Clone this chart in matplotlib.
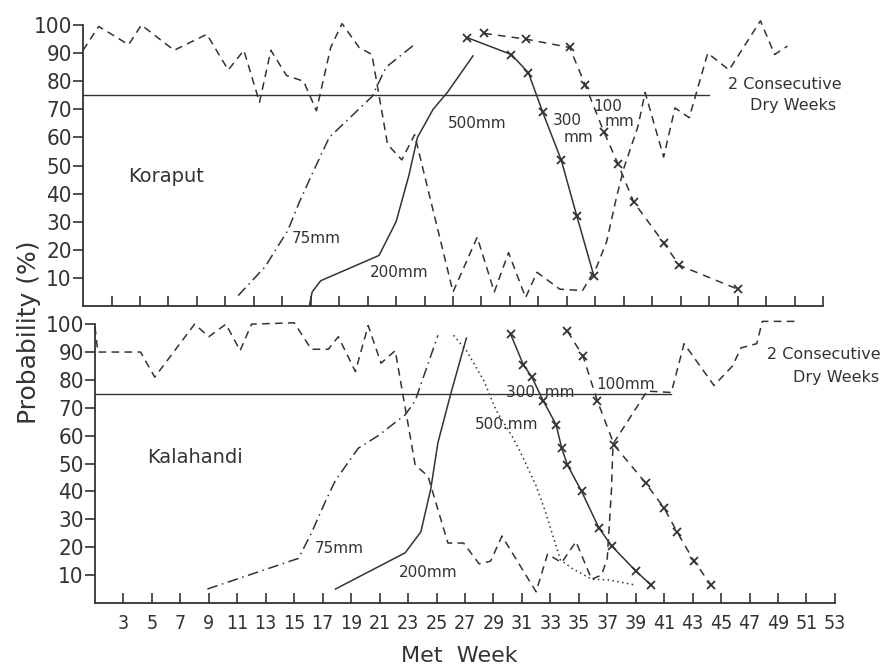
import matplotlib
matplotlib.use("Agg")
import matplotlib.pyplot as plt

INK = "#333333"

# ---- Koraput (top panel), week vs probability (%) ----
kor_dry_wk = [1.0, 2.1, 4.2, 5.1, 7.4, 9.7, 11.2, 12.3, 13.4, 14.2, 15.3, 16.5, 17.4, 18.4,
              19.2, 20.4, 21.3, 22.4, 23.4, 24.3, 27.0, 28.7, 29.9, 30.9, 32.1, 32.9, 34.5,
              36.1, 37.1, 37.8, 38.5, 39.0, 40.0, 40.5, 41.8, 42.6, 43.6, 44.9, 46.4, 48.6,
              49.6, 50.5]
kor_dry_p = [91, 99.5, 93, 100, 91, 96.7, 84, 91, 72.5, 91, 82, 80, 69.5, 92,
             100.5, 92, 89.5, 57.5, 52, 61, 5, 24.5, 5, 19, 3, 12, 6,
             5.5, 14, 23, 39, 49, 64, 76, 53, 70.5, 67, 90, 84, 101.5,
             89.5, 92.5]

kor_75_wk = [11.9, 13.8, 15.4, 16.2, 17.1, 18.3, 21.3, 22.3, 24.4]
kor_75_p = [3.7, 14, 27, 37, 47, 60, 74.5, 85, 93.5]

kor_200_wk = [16.9, 17.1, 17.7, 21.8, 23.0, 23.9, 24.5, 25.6, 26.6, 28.4]
kor_200_p = [0, 5, 9, 18, 30, 46.5, 60, 70, 76, 89]

kor_300_wk = [28.0, 31.1, 32.3, 33.3, 34.6, 35.7, 36.9]
kor_300_p = [95.5, 89.5, 83, 69, 52, 32, 10.7]

kor_100_wk = [29.2, 32.1, 35.2, 36.3, 37.6, 38.6, 39.7, 41.8, 42.9, 47.0]
kor_100_p = [97, 95, 92, 78.5, 62, 50.5, 37, 22.5, 14.5, 6]

# ---- Kalahandi (bottom panel) ----
kal_dry_wk = [1.0, 1.2, 4.2, 5.2, 8.0, 9.0, 10.2, 11.2, 12.0, 15.0, 16.2, 17.4, 18.1, 19.3,
              20.2, 21.1, 22.1, 23.5, 24.4, 25.8, 26.9, 28.0, 28.8, 29.6, 32.0, 32.8, 33.8,
              34.8, 35.9, 36.6, 37.0, 37.3, 37.4, 39.8, 41.5, 42.4, 44.5, 45.8, 46.4, 47.5,
              47.9, 50.3]
kal_dry_p = [99, 90, 90, 81, 100, 95.5, 100, 90.5, 100, 100.5, 91, 91, 95.5, 83,
             99.5, 86, 90.5, 49.5, 45.5, 21.5, 21.5, 14, 15, 24, 4, 17.5, 14.5,
             22, 8.5, 10, 16, 41, 57, 76, 75.5, 93, 78, 85, 91.5, 93,
             101, 101]

kal_75_wk = [8.9, 15.3, 16.2, 17.2, 17.9, 19.5, 20.9, 22.8, 23.5, 25.1]
kal_75_p = [5, 16, 25, 36.5, 44, 55.5, 60, 67.5, 72.5, 96]

kal_200_wk = [17.9, 22.8, 23.9, 24.6, 25.1, 26.0, 27.1]
kal_200_p = [5, 18, 25.5, 41, 57.5, 75, 95]

kal_500_wk = [26.2, 27.1, 28.3, 29.2, 30.4, 31.0, 32.0, 32.7, 33.7, 34.5, 35.9, 37.1, 39.0]
kal_500_p = [96, 90.5, 80, 69, 59, 53, 42, 32, 15.5, 12.5, 8.5, 8.3, 6.4]

kal_300_wk = [30.2, 31.1, 31.7, 32.5, 33.4, 33.8, 34.2, 35.2, 36.4, 37.3, 39.0, 40.1]
kal_300_p = [96.5, 85.5, 81, 72.5, 64, 55.5, 49.5, 40, 27, 20.5, 11.5, 6.3]

kal_100_wk = [34.2, 35.3, 36.3, 37.5, 39.7, 41.0, 41.9, 43.1, 44.3]
kal_100_p = [97.5, 88.5, 72.5, 56.5, 43, 34, 25.5, 15, 6.4]

THRESHOLD = 75
week_ticks = list(range(3, 54, 2))
prob_ticks = list(range(10, 101, 10))


def style_axes(ax, show_xlabels):
    for s in ("top", "right"):
        ax.spines[s].set_visible(False)
    for s in ("left", "bottom"):
        ax.spines[s].set_linewidth(1.3)
        ax.spines[s].set_color(INK)
    ax.set_xlim(1, 53)
    ax.set_ylim(0, 100)
    ax.set_xticks(week_ticks)
    ax.set_yticks(prob_ticks)
    ax.tick_params(axis="x", direction="in", length=7, width=1.2, color=INK, pad=8,
                   labelbottom=show_xlabels)
    ax.tick_params(axis="y", direction="out", length=7, width=1.2, color=INK, pad=1)
    if show_xlabels:
        ax.set_xticklabels([str(w) for w in week_ticks], fontsize=14,
                           fontstretch="condensed", color=INK)
    ax.set_yticklabels([str(p) for p in prob_ticks], fontsize=16,
                       fontstretch="condensed", color=INK)


def draw(ax, wk, p, **kw):
    ax.plot(wk, p, color=INK, lw=1.1, clip_on=False, **kw)


def label(ax, x, y, s, size=11):
    ax.text(x, y, s, ha="center", va="center", fontsize=size, color=INK)


def main():
    fig = plt.figure(figsize=(8.91, 6.67), dpi=100)
    ax_top = fig.add_axes([0.0932, 0.5412, 0.8305, 0.4213])
    ax_bot = fig.add_axes([0.1066, 0.0960, 0.8305, 0.4180])

    # Koraput
    style_axes(ax_top, False)
    ax_top.plot([1, 45], [THRESHOLD, THRESHOLD], color=INK, lw=1.0)
    draw(ax_top, kor_dry_wk, kor_dry_p, dashes=(5, 3.5))
    draw(ax_top, kor_75_wk, kor_75_p, dashes=(7, 3, 1, 3))
    draw(ax_top, kor_200_wk, kor_200_p)
    draw(ax_top, kor_300_wk, kor_300_p, marker="x", ms=6, mew=1.3)
    draw(ax_top, kor_100_wk, kor_100_p, dashes=(5, 4), marker="x", ms=6, mew=1.3)
    label(ax_top, 6.8, 46, "Koraput", 14)
    label(ax_top, 17.4, 24, "75mm")
    label(ax_top, 23.2, 12, "200mm")
    label(ax_top, 28.7, 65, "500mm")
    label(ax_top, 35.0, 66, "300")
    label(ax_top, 35.8, 60, "mm")
    label(ax_top, 37.9, 71, "100")
    label(ax_top, 38.7, 65.5, "mm")
    label(ax_top, 50.3, 79, "2 Consecutive", 11.5)
    label(ax_top, 50.9, 71.5, "Dry Weeks", 11.5)

    # Kalahandi
    style_axes(ax_bot, True)
    ax_bot.plot([1, 41.5], [THRESHOLD, THRESHOLD], color=INK, lw=1.0)
    draw(ax_bot, kal_dry_wk, kal_dry_p, dashes=(5, 3.5))
    draw(ax_bot, kal_75_wk, kal_75_p, dashes=(7, 3, 1, 3))
    draw(ax_bot, kal_200_wk, kal_200_p)
    draw(ax_bot, kal_500_wk, kal_500_p, dashes=(1, 2.2))
    draw(ax_bot, kal_300_wk, kal_300_p, marker="x", ms=6, mew=1.3)
    draw(ax_bot, kal_100_wk, kal_100_p, dashes=(5, 4), marker="x", ms=6, mew=1.3)
    label(ax_bot, 8.0, 52, "Kalahandi", 14)
    label(ax_bot, 18.2, 19.5, "75mm")
    label(ax_bot, 24.4, 11, "200mm")
    label(ax_bot, 29.9, 64, "500.mm")
    label(ax_bot, 32.3, 75.5, "300  mm")
    label(ax_bot, 38.3, 78.5, "100mm")
    label(ax_bot, 52.2, 89, "2 Consecutive", 11.5)
    label(ax_bot, 53.1, 81, "Dry Weeks", 11.5)

    fig.text(0.033, 0.502, "Probability (%)", rotation=90, ha="center", va="center",
             fontsize=18, color=INK)
    fig.text(0.516, 0.016, "Met  Week", ha="center", va="center", fontsize=16, color=INK)

    fig.savefig("out.png", dpi=100, facecolor="white")
    plt.close(fig)


if __name__ == "__main__":
    main()
